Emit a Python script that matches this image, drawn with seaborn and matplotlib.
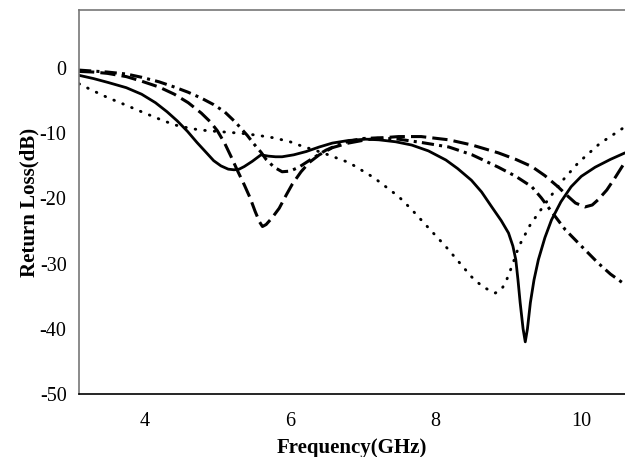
import matplotlib
matplotlib.use("Agg")
import matplotlib.pyplot as plt
import numpy as np
import pandas as pd
import seaborn as sns

sns.set_style("white")
plt.rcParams['font.family'] = ['Liberation Serif', 'DejaVu Serif']
plt.rcParams['axes.unicode_minus'] = False
my_dpi = 100

# data (frequency GHz, return loss dB)
f_solid = [3.1, 3.3, 3.5, 3.75, 3.96, 4.15, 4.31, 4.45, 4.59, 4.72, 4.86, 4.95, 5.05, 5.15, 5.23, 5.3,
           5.37, 5.48, 5.6, 5.7, 5.8, 5.89, 6.05, 6.22, 6.4, 6.58, 6.8, 7.04, 7.22, 7.45, 7.67, 7.9,
           8.14, 8.3, 8.49, 8.63, 8.77, 8.9, 9.0, 9.06, 9.1, 9.13, 9.16, 9.2, 9.23, 9.26, 9.3, 9.35,
           9.41, 9.5, 9.59, 9.72, 9.86, 10.0, 10.19, 10.4, 10.6]
rl_solid = [-1.1, -1.6, -2.2, -3.0, -4.0, -5.3, -6.7, -8.1, -9.7, -11.4, -13.1, -14.2, -15.0, -15.5, -15.6, -15.5,
            -15.1, -14.3, -13.3, -13.5, -13.6, -13.6, -13.3, -12.8, -12.1, -11.5, -11.1, -10.9, -11.0, -11.3, -11.8, -12.7,
            -14.1, -15.4, -17.2, -19.0, -21.3, -23.4, -25.3, -27.3, -29.4, -32.5, -36.0, -40.0, -42.0, -40.0, -36.0, -32.5,
            -29.4, -26.0, -23.3, -20.5, -18.2, -16.6, -15.2, -14.0, -13.0]

f_dash = [3.1, 3.3, 3.49, 3.75, 3.96, 4.2, 4.41, 4.6, 4.78, 4.9, 5.0, 5.1, 5.19, 5.28, 5.37, 5.45,
          5.52, 5.58, 5.62, 5.67, 5.75, 5.85, 5.95, 6.03, 6.15, 6.26, 6.4, 6.58, 6.8, 7.04, 7.25, 7.49,
          7.8, 8.18, 8.5, 8.86, 9.1, 9.32, 9.5, 9.68, 9.8, 9.92, 10.05, 10.15, 10.23, 10.35, 10.47, 10.6]
rl_dash = [-0.5, -0.6, -0.8, -1.3, -2.0, -2.9, -4.0, -5.3, -6.9, -8.2, -9.6, -11.5, -13.6, -15.8, -17.9, -19.9,
           -22.0, -23.6, -24.3, -24.0, -23.0, -21.5, -19.4, -17.8, -15.9, -14.5, -13.3, -12.2, -11.5, -11.0, -10.7, -10.5,
           -10.5, -11.0, -11.8, -13.0, -14.0, -15.1, -16.5, -18.2, -19.5, -20.7, -21.3, -21.0, -20.2, -18.7, -16.7, -14.4]

f_dashdot = [3.1, 3.49, 3.75, 3.96, 4.2, 4.41, 4.6, 4.78, 4.95, 5.1, 5.25, 5.41, 5.5, 5.6, 5.67, 5.78,
             5.89, 6.0, 6.12, 6.3, 6.49, 6.65, 6.81, 7.0, 7.2, 7.49, 7.8, 8.18, 8.5, 8.86, 9.1, 9.32,
             9.45, 9.59, 9.78, 10.0, 10.23, 10.4, 10.6]
rl_dashdot = [-0.3, -0.6, -0.9, -1.4, -2.1, -2.9, -3.7, -4.6, -5.6, -6.7, -8.3, -10.3, -11.6, -12.9, -14.0, -15.2,
              -15.9, -15.8, -15.2, -13.9, -12.6, -11.8, -11.2, -10.8, -10.7, -10.9, -11.4, -12.1, -13.3, -15.2, -16.6, -18.2,
              -19.9, -22.0, -24.8, -27.3, -29.9, -31.6, -33.2]

f_dot = [3.1, 3.3, 3.49, 3.75, 3.96, 4.2, 4.41, 4.65, 4.86, 5.1, 5.33, 5.55, 5.78, 6.0, 6.12, 6.45,
         6.81, 7.15, 7.49, 7.67, 7.9, 8.14, 8.33, 8.49, 8.65, 8.82, 8.9, 8.96, 9.05, 9.14, 9.3, 9.51,
         9.73, 9.96, 10.25, 10.6]
rl_dot = [-2.4, -3.5, -4.5, -5.7, -6.7, -7.8, -8.7, -9.3, -9.6, -9.8, -10.0, -10.3, -10.7, -11.3, -11.8, -13.0,
          -14.5, -16.8, -19.7, -21.7, -24.5, -27.4, -29.9, -32.0, -33.6, -34.5, -34.0, -32.9, -30.3, -27.4, -24.0, -20.7,
          -17.4, -14.5, -11.6, -9.0]

fig = plt.figure(figsize=(625/my_dpi, 457/my_dpi), dpi=my_dpi)
ax = fig.add_axes([0.1264, 0.1379, 0.8736, 0.8399])

curves = [
    (f_solid, rl_solid, '-', 2.0),
    (f_dash, rl_dash, (0, (5, 2)), 2.2),
    (f_dashdot, rl_dashdot, (0, (4, 1.7, 1, 1.7)), 2.2),
    (f_dot, rl_dot, (0, (0.2, 3.1)), 2.1),
]
for fx, ry, ls, lw in curves:
    df = pd.DataFrame({'f': fx, 'rl': ry})
    sns.lineplot(data=df, x='f', y='rl', color='black', linestyle=ls, linewidth=lw,
                 sort=False, ax=ax)
ax.lines[-1].set_dash_capstyle('round')
for ln in ax.lines:
    ln.set_solid_joinstyle('round')

ax.set_xlim(3.1, 10.6)
ax.set_ylim(-50, 8.9)
ax.set_xticks([4, 6, 8, 10])
ax.set_yticks([0, -10, -20, -30, -40, -50])
ax.tick_params(direction='out', length=5, width=1, labelsize=14.5, colors='black')
ax.tick_params(axis='x', pad=8)
ax.tick_params(axis='y', color='#777777', pad=4)

ax.spines['right'].set_visible(False)
ax.spines['top'].set_color('#777777')
ax.spines['left'].set_color('#777777')
ax.spines['bottom'].set_color('black')
for s in ['top', 'left', 'bottom']:
    ax.spines[s].set_linewidth(1.2)

ax.set_xlabel("Frequency(GHz)", fontsize=15, fontweight='bold', labelpad=5, color='black')
ax.set_ylabel("Return Loss(dB)", fontsize=15, fontweight='bold', labelpad=0, color='black')

plt.savefig("out.png", dpi=my_dpi)
